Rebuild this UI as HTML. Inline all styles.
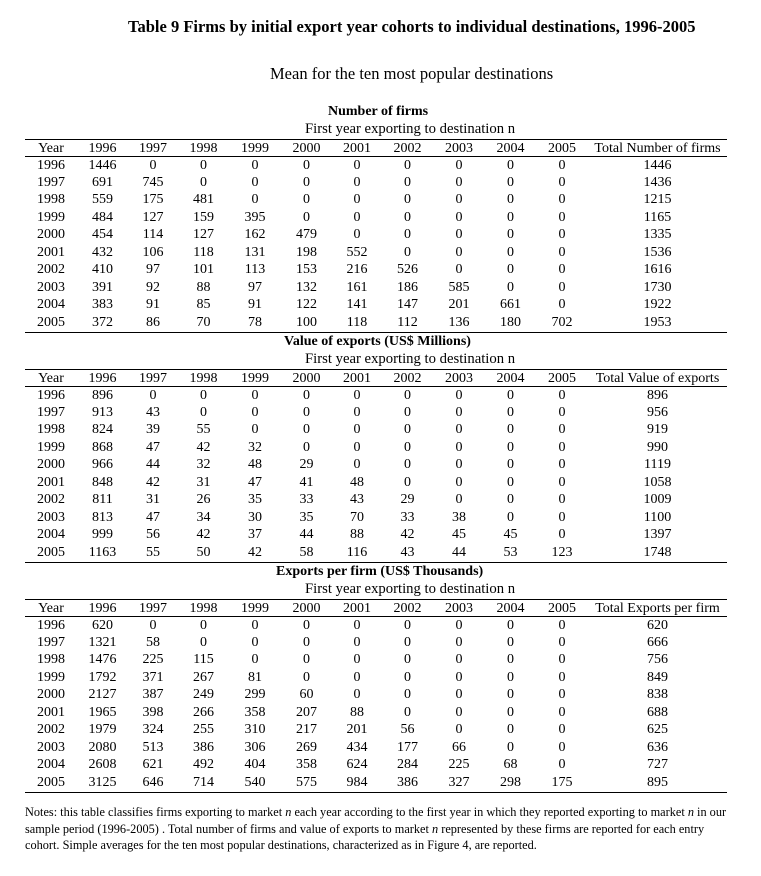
<!DOCTYPE html>
<html><head><meta charset="utf-8"><style>
body{margin:0;background:#fff;width:761px;height:876px;position:relative;font-family:"Liberation Serif",serif;color:#000;overflow:hidden}
.a{position:absolute;white-space:nowrap}
.ln{position:absolute;left:25px;width:702px;height:1px;background:#000}
table{position:absolute;left:25px;border-collapse:collapse;table-layout:fixed;font-size:14px}
td{padding:0;text-align:center;height:17.45px;line-height:17.45px;white-space:nowrap}
tr.h td{height:17px;line-height:17px}
.sub{font-size:14.7px}
</style></head><body>
<div class="a" style="left:128px;top:17px;font-size:16.5px;font-weight:bold">Table 9 Firms by initial export year cohorts to individual destinations, 1996-2005</div>
<div class="a" style="left:270px;top:64px;font-size:16.5px">Mean for the ten most popular destinations</div>

<div class="a" style="left:328px;top:104px;font-size:14px;font-weight:bold">Number of firms</div>
<div class="a sub" style="left:305px;top:121px">First year exporting to destination n</div>
<div class="ln" style="top:139px"></div><div class="ln" style="top:156px"></div><div class="ln" style="top:332px"></div>
<table style="top:139.5px">
<colgroup><col style="width:52px"><col style="width:51px"><col style="width:50px"><col style="width:51px"><col style="width:52px"><col style="width:51px"><col style="width:50px"><col style="width:51px"><col style="width:52px"><col style="width:51px"><col style="width:52px"><col style="width:139px"></colgroup>
<tr class="h"><td>Year</td><td>1996</td><td>1997</td><td>1998</td><td>1999</td><td>2000</td><td>2001</td><td>2002</td><td>2003</td><td>2004</td><td>2005</td><td>Total Number of firms</td></tr>
<tr><td>1996</td><td>1446</td><td>0</td><td>0</td><td>0</td><td>0</td><td>0</td><td>0</td><td>0</td><td>0</td><td>0</td><td>1446</td></tr>
<tr><td>1997</td><td>691</td><td>745</td><td>0</td><td>0</td><td>0</td><td>0</td><td>0</td><td>0</td><td>0</td><td>0</td><td>1436</td></tr>
<tr><td>1998</td><td>559</td><td>175</td><td>481</td><td>0</td><td>0</td><td>0</td><td>0</td><td>0</td><td>0</td><td>0</td><td>1215</td></tr>
<tr><td>1999</td><td>484</td><td>127</td><td>159</td><td>395</td><td>0</td><td>0</td><td>0</td><td>0</td><td>0</td><td>0</td><td>1165</td></tr>
<tr><td>2000</td><td>454</td><td>114</td><td>127</td><td>162</td><td>479</td><td>0</td><td>0</td><td>0</td><td>0</td><td>0</td><td>1335</td></tr>
<tr><td>2001</td><td>432</td><td>106</td><td>118</td><td>131</td><td>198</td><td>552</td><td>0</td><td>0</td><td>0</td><td>0</td><td>1536</td></tr>
<tr><td>2002</td><td>410</td><td>97</td><td>101</td><td>113</td><td>153</td><td>216</td><td>526</td><td>0</td><td>0</td><td>0</td><td>1616</td></tr>
<tr><td>2003</td><td>391</td><td>92</td><td>88</td><td>97</td><td>132</td><td>161</td><td>186</td><td>585</td><td>0</td><td>0</td><td>1730</td></tr>
<tr><td>2004</td><td>383</td><td>91</td><td>85</td><td>91</td><td>122</td><td>141</td><td>147</td><td>201</td><td>661</td><td>0</td><td>1922</td></tr>
<tr><td>2005</td><td>372</td><td>86</td><td>70</td><td>78</td><td>100</td><td>118</td><td>112</td><td>136</td><td>180</td><td>702</td><td>1953</td></tr>
</table>

<div class="a" style="left:284px;top:334px;font-size:14px;font-weight:bold">Value of exports (US$ Millions)</div>
<div class="a sub" style="left:305px;top:351px">First year exporting to destination n</div>
<div class="ln" style="top:369px"></div><div class="ln" style="top:386px"></div><div class="ln" style="top:562px"></div>
<table style="top:369.5px">
<colgroup><col style="width:52px"><col style="width:51px"><col style="width:50px"><col style="width:51px"><col style="width:52px"><col style="width:51px"><col style="width:50px"><col style="width:51px"><col style="width:52px"><col style="width:51px"><col style="width:52px"><col style="width:139px"></colgroup>
<tr class="h"><td>Year</td><td>1996</td><td>1997</td><td>1998</td><td>1999</td><td>2000</td><td>2001</td><td>2002</td><td>2003</td><td>2004</td><td>2005</td><td>Total Value of exports</td></tr>
<tr><td>1996</td><td>896</td><td>0</td><td>0</td><td>0</td><td>0</td><td>0</td><td>0</td><td>0</td><td>0</td><td>0</td><td>896</td></tr>
<tr><td>1997</td><td>913</td><td>43</td><td>0</td><td>0</td><td>0</td><td>0</td><td>0</td><td>0</td><td>0</td><td>0</td><td>956</td></tr>
<tr><td>1998</td><td>824</td><td>39</td><td>55</td><td>0</td><td>0</td><td>0</td><td>0</td><td>0</td><td>0</td><td>0</td><td>919</td></tr>
<tr><td>1999</td><td>868</td><td>47</td><td>42</td><td>32</td><td>0</td><td>0</td><td>0</td><td>0</td><td>0</td><td>0</td><td>990</td></tr>
<tr><td>2000</td><td>966</td><td>44</td><td>32</td><td>48</td><td>29</td><td>0</td><td>0</td><td>0</td><td>0</td><td>0</td><td>1119</td></tr>
<tr><td>2001</td><td>848</td><td>42</td><td>31</td><td>47</td><td>41</td><td>48</td><td>0</td><td>0</td><td>0</td><td>0</td><td>1058</td></tr>
<tr><td>2002</td><td>811</td><td>31</td><td>26</td><td>35</td><td>33</td><td>43</td><td>29</td><td>0</td><td>0</td><td>0</td><td>1009</td></tr>
<tr><td>2003</td><td>813</td><td>47</td><td>34</td><td>30</td><td>35</td><td>70</td><td>33</td><td>38</td><td>0</td><td>0</td><td>1100</td></tr>
<tr><td>2004</td><td>999</td><td>56</td><td>42</td><td>37</td><td>44</td><td>88</td><td>42</td><td>45</td><td>45</td><td>0</td><td>1397</td></tr>
<tr><td>2005</td><td>1163</td><td>55</td><td>50</td><td>42</td><td>58</td><td>116</td><td>43</td><td>44</td><td>53</td><td>123</td><td>1748</td></tr>
</table>

<div class="a" style="left:276px;top:564px;font-size:14px;font-weight:bold">Exports per firm (US$ Thousands)</div>
<div class="a sub" style="left:305px;top:581px">First year exporting to destination n</div>
<div class="ln" style="top:599px"></div><div class="ln" style="top:616px"></div><div class="ln" style="top:792px"></div>
<table style="top:599.5px">
<colgroup><col style="width:52px"><col style="width:51px"><col style="width:50px"><col style="width:51px"><col style="width:52px"><col style="width:51px"><col style="width:50px"><col style="width:51px"><col style="width:52px"><col style="width:51px"><col style="width:52px"><col style="width:139px"></colgroup>
<tr class="h"><td>Year</td><td>1996</td><td>1997</td><td>1998</td><td>1999</td><td>2000</td><td>2001</td><td>2002</td><td>2003</td><td>2004</td><td>2005</td><td>Total Exports per firm</td></tr>
<tr><td>1996</td><td>620</td><td>0</td><td>0</td><td>0</td><td>0</td><td>0</td><td>0</td><td>0</td><td>0</td><td>0</td><td>620</td></tr>
<tr><td>1997</td><td>1321</td><td>58</td><td>0</td><td>0</td><td>0</td><td>0</td><td>0</td><td>0</td><td>0</td><td>0</td><td>666</td></tr>
<tr><td>1998</td><td>1476</td><td>225</td><td>115</td><td>0</td><td>0</td><td>0</td><td>0</td><td>0</td><td>0</td><td>0</td><td>756</td></tr>
<tr><td>1999</td><td>1792</td><td>371</td><td>267</td><td>81</td><td>0</td><td>0</td><td>0</td><td>0</td><td>0</td><td>0</td><td>849</td></tr>
<tr><td>2000</td><td>2127</td><td>387</td><td>249</td><td>299</td><td>60</td><td>0</td><td>0</td><td>0</td><td>0</td><td>0</td><td>838</td></tr>
<tr><td>2001</td><td>1965</td><td>398</td><td>266</td><td>358</td><td>207</td><td>88</td><td>0</td><td>0</td><td>0</td><td>0</td><td>688</td></tr>
<tr><td>2002</td><td>1979</td><td>324</td><td>255</td><td>310</td><td>217</td><td>201</td><td>56</td><td>0</td><td>0</td><td>0</td><td>625</td></tr>
<tr><td>2003</td><td>2080</td><td>513</td><td>386</td><td>306</td><td>269</td><td>434</td><td>177</td><td>66</td><td>0</td><td>0</td><td>636</td></tr>
<tr><td>2004</td><td>2608</td><td>621</td><td>492</td><td>404</td><td>358</td><td>624</td><td>284</td><td>225</td><td>68</td><td>0</td><td>727</td></tr>
<tr><td>2005</td><td>3125</td><td>646</td><td>714</td><td>540</td><td>575</td><td>984</td><td>386</td><td>327</td><td>298</td><td>175</td><td>895</td></tr>
</table>

<div class="a" style="left:25px;top:804px;font-size:12.3px;line-height:16.5px">Notes: this table classifies firms exporting to market <i>n</i> each year according to the first year in which they reported exporting to market <i>n</i> in our<br>sample period (1996-2005) . Total number of firms and value of exports to market <i>n</i> represented by these firms are reported for each entry<br>cohort. Simple averages for the ten most popular destinations, characterized as in Figure 4, are reported.</div>
</body></html>
